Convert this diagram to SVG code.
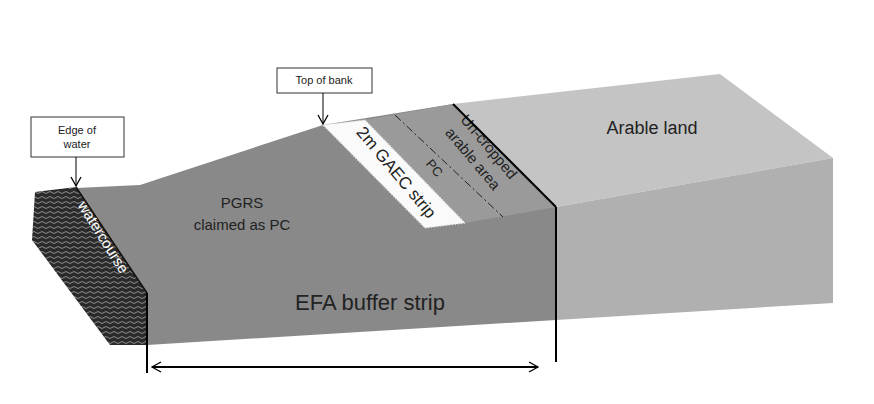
<svg xmlns="http://www.w3.org/2000/svg" width="874" height="404" viewBox="0 0 874 404">
<defs>
<pattern id="wave" width="8" height="5" patternUnits="userSpaceOnUse">
<rect width="8" height="5" fill="#2a2a2a"/>
<path d="M0 2.5 Q2 0.5 4 2.5 T8 2.5" fill="none" stroke="#9a9a9a" stroke-width="0.9"/>
</pattern>
<marker id="ah" markerWidth="12" markerHeight="12" refX="10" refY="6" orient="auto" markerUnits="userSpaceOnUse">
<path d="M1 1 L10 6 L1 11" fill="none" stroke="#000" stroke-width="1.3"/>
</marker>
<style>
.lbl{font-family:"Liberation Sans",Arial,sans-serif;fill:#222;text-anchor:middle}
.box{fill:#fff;stroke:#333;stroke-width:1}
.ln{stroke:#000;stroke-width:2;fill:none}
</style>
</defs>
<rect width="874" height="404" fill="#fff"/>
<g id="arable">
<polygon points="453,104 720,74 833,158 556,207" fill="#c4c4c4"/>
<polygon points="556,207 833,158 833,303 556,320" fill="#b0b0b0"/>
<text class="lbl" x="652" y="134" font-size="18">Arable land</text>
</g>
<g id="bank">
<polygon points="76,188 140,185 323,125 453,104 556,207 556,320 147,345 147,293" fill="#898989"/>
<polygon points="365,120 453,104 556,207 465,223" fill="#9a9a9a"/>
<polygon points="323,125 365,120 465,223 425,228" fill="#fafafa" stroke="#e0e0e0" stroke-width="1.5" stroke-dasharray="1 2"/>
<line x1="395" y1="115" x2="503" y2="217" stroke="#222" stroke-width="1" stroke-dasharray="8 3 2 3"/>
<text class="lbl" x="242" y="208" font-size="15">PGRS</text>
<text class="lbl" x="242" y="230" font-size="15">claimed as PC</text>
<text class="lbl" x="370" y="310" font-size="22">EFA buffer strip</text>
<text class="lbl" font-size="17" transform="translate(392,176) rotate(50)">2m GAEC strip</text>
<text class="lbl" font-size="13" transform="translate(431,171) rotate(50)">PC</text>
<text class="lbl" font-size="15" transform="translate(485,150) rotate(50)">Un-cropped</text>
<text class="lbl" font-size="15" transform="translate(469,162) rotate(50)">arable area</text>
</g>
<g id="watercourse">
<polygon points="35,192 76,187 147,293 147,345 110,345 32,240" fill="url(#wave)"/>
<line x1="76" y1="187" x2="147" y2="293" stroke="#111" stroke-width="1.5"/>
<text font-family="Liberation Sans,Arial,sans-serif" font-size="15" fill="#fff" text-anchor="middle" transform="translate(99,240) rotate(58)">watercourse</text>
</g>
<g id="edge-of-water">
<rect class="box" x="31" y="117" width="93" height="40"/>
<text class="lbl" x="77" y="134" font-size="11">Edge of</text>
<text class="lbl" x="77" y="148" font-size="11">water</text>
</g>
<g id="top-of-bank">
<rect class="box" x="277" y="68" width="95" height="25"/>
<text class="lbl" x="324" y="84" font-size="11">Top of bank</text>
</g>
<g id="connectors">
<line x1="76" y1="157" x2="76" y2="186" stroke="#000" stroke-width="1" marker-end="url(#ah)"/>
<line x1="323" y1="93" x2="323" y2="124" stroke="#000" stroke-width="1" marker-end="url(#ah)"/>
<line class="ln" x1="453" y1="104" x2="556" y2="207"/>
<line class="ln" x1="556" y1="207" x2="556" y2="362"/>
<line class="ln" x1="147" y1="293" x2="147" y2="373"/>
<line x1="345" y1="367" x2="152" y2="367" stroke="#000" stroke-width="2" marker-end="url(#ah)"/>
<line x1="345" y1="367" x2="538" y2="367" stroke="#000" stroke-width="2" marker-end="url(#ah)"/>
</g>
</svg>
